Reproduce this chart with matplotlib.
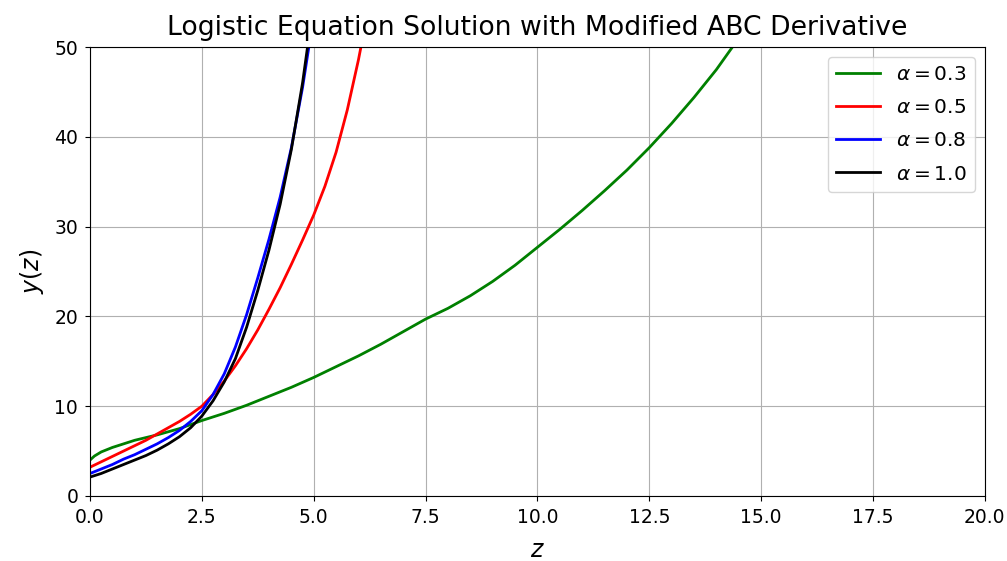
import matplotlib
matplotlib.use("Agg")
import matplotlib.pyplot as plt

# alpha = 0.3 (green)
z_a03 = [0, 0.1, 0.25, 0.5, 0.75, 1.0, 1.5, 2.0, 2.5, 3.0, 3.5, 4.0, 4.5, 5.0, 5.5, 6.0,
         6.5, 7.0, 7.5, 8.0, 8.5, 9.0, 9.5, 10.0, 10.5, 11.0, 11.5, 12.0, 12.5, 13.0,
         13.5, 14.0, 14.5, 15.0]
y_a03 = [4.0, 4.45, 4.9, 5.4, 5.8, 6.2, 6.8, 7.5, 8.4, 9.2, 10.1, 11.1, 12.1, 13.2, 14.4, 15.6,
         16.9, 18.3, 19.7, 20.9, 22.3, 23.9, 25.7, 27.7, 29.7, 31.8, 34.0, 36.3, 38.8, 41.5,
         44.4, 47.5, 51.0, 54.5]

# alpha = 0.5 (red)
z_a05 = [0, 0.25, 0.5, 0.75, 1.0, 1.25, 1.5, 1.75, 2.0, 2.25, 2.5, 2.75, 3.0, 3.25, 3.5,
         3.75, 4.0, 4.25, 4.5, 4.75, 5.0, 5.25, 5.5, 5.75, 6.0, 6.25]
y_a05 = [3.2, 3.8, 4.4, 5.0, 5.6, 6.2, 6.9, 7.6, 8.3, 9.1, 10.0, 11.3, 12.8, 14.5, 16.4,
         18.5, 20.8, 23.2, 25.8, 28.5, 31.3, 34.5, 38.3, 43.0, 48.6, 55.0]

# alpha = 0.8 (blue)
z_a08 = [0, 0.25, 0.5, 0.75, 1.0, 1.25, 1.5, 1.75, 2.0, 2.25, 2.5, 2.75, 3.0, 3.25, 3.5,
         3.75, 4.0, 4.25, 4.5, 4.75, 5.0]
y_a08 = [2.5, 3.0, 3.5, 4.1, 4.6, 5.2, 5.8, 6.5, 7.3, 8.3, 9.5, 11.3, 13.6, 16.6, 20.2,
         24.3, 28.6, 33.3, 38.8, 45.5, 53.5]

# alpha = 1.0 (black)
z_a10 = [0, 0.25, 0.5, 0.75, 1.0, 1.25, 1.5, 1.75, 2.0, 2.25, 2.5, 2.75, 3.0, 3.25, 3.5,
         3.75, 4.0, 4.25, 4.5, 4.75, 5.0]
y_a10 = [2.1, 2.5, 3.0, 3.5, 4.0, 4.5, 5.1, 5.8, 6.6, 7.6, 8.9, 10.6, 12.7, 15.3, 18.8,
         22.9, 27.4, 32.5, 38.6, 46.0, 55.0]

series_labels = [r'$\alpha = 0.3$', r'$\alpha = 0.5$', r'$\alpha = 0.8$', r'$\alpha = 1.0$']
series_colors = ['green', 'red', 'blue', 'black']

fig = plt.figure(figsize=(10.07, 5.61), dpi=100)
ax = fig.add_axes([0.0894, 0.116, 0.8886, 0.8])

for (zz, yy), lab, col in zip([(z_a03, y_a03), (z_a05, y_a05), (z_a08, y_a08), (z_a10, y_a10)],
                              series_labels, series_colors):
    ax.plot(zz, yy, color=col, lw=2, label=lab)

ax.set_xlim(0, 20)
ax.set_ylim(0, 50)
ax.grid(True)
ax.tick_params(labelsize=13.5, pad=5)
ax.set_title('Logistic Equation Solution with Modified ABC Derivative', fontsize=19.2, pad=9)
ax.set_xlabel(r'$z$', fontsize=17, labelpad=8)
ax.set_ylabel(r'$y(z)$', fontsize=17, labelpad=6)
ax.legend(loc='upper right', fontsize=14.5, handlelength=2.2, labelspacing=0.7)

fig.savefig('out.png', dpi=100)
